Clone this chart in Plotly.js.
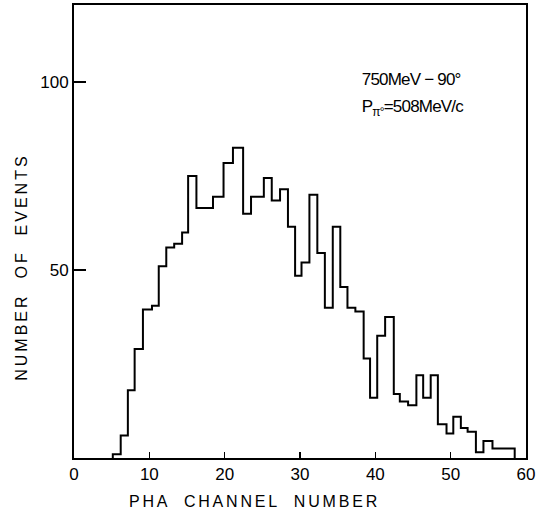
<!DOCTYPE html>
<html>
<head>
<meta charset="utf-8">
<script src="https://cdn.plot.ly/plotly-3.0.1.min.js"></script>
<style>
  html, body { margin: 0; padding: 0; background: #fff; }
  #chart { width: 539px; height: 523px; }
  g.annotation[data-index="0"] text { letter-spacing: 3px; }
  g.annotation[data-index="1"] text { letter-spacing: 2.8px; }
  g.annotation[data-index="2"] text { letter-spacing: -0.8px; }
  g.annotation[data-index="3"] text { letter-spacing: -0.8px; }
</style>
</head>
<body>
<div id="chart"></div>
<script>
// Bin edges (PHA channel number)
const binEdges = [5.15, 6.2, 7.15, 8.05, 9.15, 10.35, 11.25, 12.25, 13.3, 14.35, 15.15, 16.25,
  18.45, 19.85, 21.1, 22.45, 23.5, 25.2, 26.25, 27.35, 28.4, 29.35, 30.2, 31.25, 32.3, 33.3,
  34.35, 35.35, 36.3, 37.35, 38.45, 39.3, 40.25, 41.3, 42.45, 43.25, 44.35, 45.45, 46.35,
  47.35, 48.3, 49.45, 50.35, 51.35, 52.25, 53.35, 54.35, 55.55, 58.5];
// Number of events in each bin
const counts = [1, 6, 18, 29, 39.5, 40.5, 51, 56, 57, 60, 75, 66.5, 69.5, 78.5, 82.5, 65,
  69.5, 74.5, 68.5, 71.5, 61.5, 48.5, 52, 70, 54.5, 40, 61.5, 45.5, 40, 39, 26.5, 16, 32.5,
  37.5, 17, 15, 14, 22, 16, 22, 9, 6.5, 11, 8, 7, 1.5, 4.5, 2.5];
const xTicks = [0, 10, 20, 30, 40, 50, 60];
const yTicks = [50, 100];
const xTitle = "PHA  CHANNEL  NUMBER";
const yTitle = "NUMBER  OF  EVENTS";
const note1 = "750MeV − 90°";
const note2 = "P<sub>π°</sub>=508MeV/c";

const xs = [binEdges[0]].concat(binEdges);
const ys = [0].concat(counts).concat([0]);

const FONT = "Liberation Sans, Arial, sans-serif";

const trace = {
  x: xs, y: ys, type: 'scatter', mode: 'lines',
  line: { shape: 'hv', color: '#000', width: 2 },
  hoverinfo: 'skip'
};

const layout = {
  width: 539, height: 523,
  margin: { l: 74, r: 13, t: 5, b: 65 },
  paper_bgcolor: '#fff', plot_bgcolor: '#fff',
  showlegend: false,
  font: { family: FONT, color: '#000', size: 16 },
  xaxis: {
    range: [0, 60], tickmode: 'array', tickvals: xTicks, ticktext: xTicks.map(String),
    ticks: 'inside', ticklen: 6, tickwidth: 1.5, tickcolor: '#000',
    showline: true, mirror: true, linecolor: '#000', linewidth: 2,
    showgrid: false, zeroline: false,
    tickfont: { family: FONT, size: 17, color: '#000' }
  },
  yaxis: {
    range: [0, 120.5], tickmode: 'array', tickvals: yTicks, ticktext: yTicks.map(String),
    ticks: 'inside', ticklen: 12, tickwidth: 1.5, tickcolor: '#000',
    showline: true, mirror: true, linecolor: '#000', linewidth: 2,
    showgrid: false, zeroline: false,
    tickfont: { family: FONT, size: 17, color: '#000' }
  },
  annotations: [
    { text: yTitle, xref: 'paper', yref: 'paper', x: -0.115, y: 0.42, textangle: -90,
      showarrow: false, xanchor: 'center', yanchor: 'middle', font: { family: FONT, size: 16 } },
    { text: xTitle, xref: 'paper', yref: 'paper', x: 0.40, y: -0.095,
      showarrow: false, xanchor: 'center', yanchor: 'middle', font: { family: FONT, size: 16 } },
    { text: note1, xref: 'paper', yref: 'paper', x: 0.622, y: 0.836,
      showarrow: false, xanchor: 'left', yanchor: 'middle', font: { family: FONT, size: 17 } },
    { text: note2, xref: 'paper', yref: 'paper', x: 0.622, y: 0.772,
      showarrow: false, xanchor: 'left', yanchor: 'middle', font: { family: FONT, size: 17 } }
  ]
};

Plotly.newPlot('chart', [trace], layout, { staticPlot: true, displayModeBar: false });
</script>
</body>
</html>
